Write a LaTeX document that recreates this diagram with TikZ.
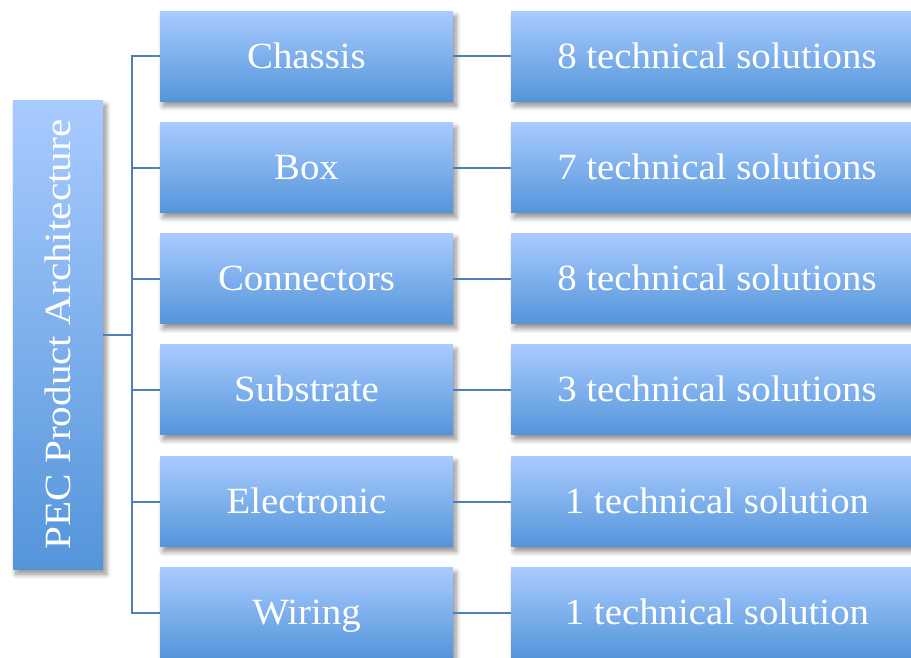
\documentclass[tikz,border=0pt]{standalone}
\usepackage{fontspec}
\setmainfont[FakeStretch=1.05]{Liberation Serif}
\usetikzlibrary{shadows.blur}
\definecolor{boxtop}{HTML}{A9CBFF}
\definecolor{boxbot}{HTML}{5495DA}
\definecolor{linec}{HTML}{4F7FB6}
\tikzset{
  bluebox/.style={rectangle, inner sep=0pt, top color=boxtop, bottom color=boxbot,
    text=white, font=\fontsize{37}{40}\selectfont, text height=24pt, text depth=0pt,
    blur shadow={shadow xshift=3pt, shadow yshift=-5pt, shadow blur steps=8, shadow blur radius=5pt, shadow opacity=45}},
  catbox/.style={bluebox, minimum width=293pt, minimum height=90pt},
  solbox/.style={bluebox, minimum width=412pt, minimum height=90pt},
  conn/.style={draw=linec, line width=2pt}
}
\begin{document}
\begin{tikzpicture}[x=1pt, y=-1pt]
\useasboundingbox (0,0) rectangle (911,657);
\begin{scope}
\clip (0,0) rectangle (911,657);
\node[bluebox, minimum width=90pt, minimum height=469pt] (root) at (58,334.5) {};
\node[text=white, font=\fontsize{37}{40}\selectfont, text height=24pt, text depth=0pt, inner sep=0pt, rotate=90] (roottext) at (58,334.5) {\scalebox{1.06}[1]{PEC Product Architecture}};
\foreach \i/\y/\c/\s in {1/56/Chassis/8 technical solutions,
                         2/167.5/Box/7 technical solutions,
                         3/278.5/Connectors/8 technical solutions,
                         4/389.5/Substrate/3 technical solutions,
                         5/501.5/Electronic/1 technical solution,
                         6/612.5/Wiring/1 technical solution}{
  \node[catbox] (c\i) at (306.5,\y) {\c};
  \node[solbox] (s\i) at (717,\y) {\s};
}
\coordinate (j) at (131.5,334.5);
\draw[conn] (root.east) -- (j);
\foreach \i in {1,...,6}{
  \draw[conn] (j) |- (c\i.west);
  \draw[conn] (c\i.east) -- (s\i.west);
}
\end{scope}
\end{tikzpicture}
\end{document}
